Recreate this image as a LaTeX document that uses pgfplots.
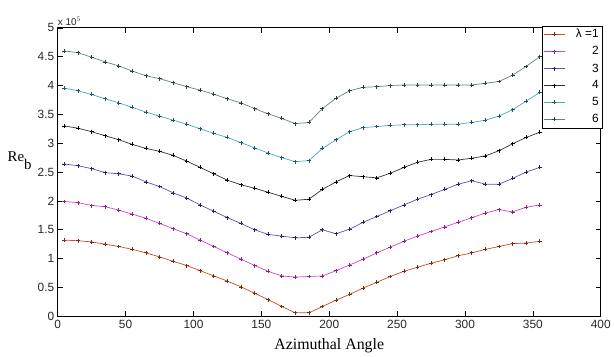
\documentclass[border=0pt]{standalone}
\usepackage{fontspec}
\setmainfont{Liberation Serif}
\setsansfont{Liberation Sans}
\usepackage{pgfplots}
\pgfplotsset{compat=1.18}
\definecolor{l1}{HTML}{C0502A}\definecolor{m1}{HTML}{7A2A10}
\definecolor{l2}{HTML}{CC44CC}\definecolor{m2}{HTML}{882088}
\definecolor{l3}{HTML}{6A4CA8}\definecolor{m3}{HTML}{2E1F5E}
\definecolor{l4}{HTML}{30303C}\definecolor{m4}{HTML}{000000}
\definecolor{l5}{HTML}{4FA6BC}\definecolor{m5}{HTML}{1F5566}
\definecolor{l6}{HTML}{66827A}\definecolor{m6}{HTML}{2A403A}
\begin{document}
\begin{tikzpicture}
\begin{axis}[
  scale only axis, width=546bp, height=290bp,
  xmin=0, xmax=400, ymin=0, ymax=5,
  xtick={0,50,...,400}, ytick={0,0.5,...,5},
  yticklabels={0,0.5,1,1.5,2,2.5,3,3.5,4,4.5,5},
  tick align=inside, tick pos=both, major tick length=5bp,
  axis line style={line width=0.8pt},
  tick style={line width=0.6pt, black},
  tick label style={font=\sffamily\fontsize{12}{14}\selectfont, text=black!85},
  /pgf/number format/assume math mode=true,
  xlabel={Azimuthal Angle},
  xlabel style={font=\fontsize{16}{18}\selectfont, yshift=-3bp},
  clip=false,
  every axis plot/.append style={line width=0.7pt},
  legend image code/.code={\draw[mark repeat=2,mark phase=2] plot coordinates {(0bp,0bp)(10.5bp,0bp)(21bp,0bp)};},
  legend style={at={(1.003,1.008)}, anchor=north east, draw=black, line width=0.6pt, fill=white,
    font=\sffamily\fontsize{12}{13}\selectfont, inner sep=1.5bp, row sep=3.3bp,
    /tikz/every odd column/.append style={column sep=9bp}},
  legend cell align=right,
]
\addplot[l1, mark=+, mark size=2bp, mark options={m1, solid}] coordinates {
(5,1.32)(15,1.31)(25,1.29)(35,1.25)(45,1.21)(55,1.16)(65,1.10)(75,1.03)(85,0.955)(95,0.88)
(105,0.79)(115,0.70)(125,0.61)(135,0.51)(145,0.40)(155,0.29)(165,0.17)(175,0.06)(185,0.06)(195,0.17)
(205,0.28)(215,0.38)(225,0.49)(235,0.59)(245,0.69)(255,0.78)(265,0.85)(275,0.92)(285,0.98)(295,1.05)
(305,1.10)(315,1.16)(325,1.21)(335,1.26)(345,1.27)(355,1.30)};
\addlegendentry{λ =1}
\addplot[l2, mark=+, mark size=2bp, mark options={m2, solid}] coordinates {
(5,1.99)(15,1.97)(25,1.92)(35,1.90)(45,1.84)(55,1.77)(65,1.70)(75,1.61)(85,1.52)(95,1.43)
(105,1.32)(115,1.21)(125,1.10)(135,0.99)(145,0.88)(155,0.78)(165,0.70)(175,0.68)(185,0.69)(195,0.70)
(205,0.79)(215,0.89)(225,0.99)(235,1.10)(245,1.20)(255,1.30)(265,1.39)(275,1.47)(285,1.55)(295,1.63)
(305,1.71)(315,1.79)(325,1.85)(335,1.81)(345,1.89)(355,1.93)};
\addlegendentry{2}
\addplot[l3, mark=+, mark size=2bp, mark options={m3, solid}] coordinates {
(5,2.64)(15,2.61)(25,2.56)(35,2.49)(45,2.47)(55,2.43)(65,2.33)(75,2.25)(85,2.14)(95,2.05)
(105,1.93)(115,1.82)(125,1.71)(135,1.61)(145,1.50)(155,1.42)(165,1.39)(175,1.36)(185,1.37)(195,1.50)
(205,1.43)(215,1.51)(225,1.63)(235,1.73)(245,1.83)(255,1.93)(265,2.03)(275,2.11)(285,2.20)(295,2.29)
(305,2.35)(315,2.29)(325,2.29)(335,2.39)(345,2.50)(355,2.58)};
\addlegendentry{3}
\addplot[l4, mark=+, mark size=2bp, mark options={m4, solid}] coordinates {
(5,3.30)(15,3.26)(25,3.20)(35,3.13)(45,3.06)(55,2.98)(65,2.91)(75,2.86)(85,2.79)(95,2.69)
(105,2.58)(115,2.47)(125,2.36)(135,2.28)(145,2.22)(155,2.15)(165,2.08)(175,2.01)(185,2.03)(195,2.20)
(205,2.33)(215,2.44)(225,2.42)(235,2.40)(245,2.48)(255,2.58)(265,2.67)(275,2.72)(285,2.72)(295,2.71)
(305,2.74)(315,2.78)(325,2.87)(335,2.99)(345,3.10)(355,3.19)};
\addlegendentry{4}
\addplot[l5, mark=+, mark size=2bp, mark options={m5, solid}] coordinates {
(5,3.955)(15,3.91)(25,3.845)(35,3.77)(45,3.70)(55,3.62)(65,3.54)(75,3.47)(85,3.40)(95,3.33)
(105,3.25)(115,3.17)(125,3.10)(135,3.01)(145,2.92)(155,2.83)(165,2.75)(175,2.68)(185,2.70)(195,2.91)
(205,3.06)(215,3.20)(225,3.27)(235,3.29)(245,3.31)(255,3.32)(265,3.32)(275,3.33)(285,3.33)(295,3.33)
(305,3.36)(315,3.40)(325,3.47)(335,3.58)(345,3.73)(355,3.88)};
\addlegendentry{5}
\addplot[l6, mark=+, mark size=2bp, mark options={m6, solid}] coordinates {
(5,4.60)(15,4.57)(25,4.49)(35,4.41)(45,4.34)(55,4.25)(65,4.17)(75,4.12)(85,4.05)(95,3.98)
(105,3.92)(115,3.85)(125,3.77)(135,3.70)(145,3.60)(155,3.51)(165,3.43)(175,3.34)(185,3.36)(195,3.60)
(205,3.78)(215,3.91)(225,3.97)(235,3.98)(245,4.00)(255,4.01)(265,4.01)(275,4.01)(285,4.01)(295,4.01)
(305,4.01)(315,4.04)(325,4.07)(335,4.18)(345,4.33)(355,4.50)};
\addlegendentry{6}
\node[anchor=south west, font=\sffamily\fontsize{10}{11}\selectfont, inner sep=0pt, yshift=2bp, text=black!85] at (rel axis cs:0,1) {x 10$^{5}$};
\node[font=\fontsize{15}{17}\selectfont, inner sep=0pt] at (rel axis cs:-0.07,0.54) {Re\raisebox{-8bp}{b}};
\coordinate (ll) at (rel axis cs:0,0);
\coordinate (ur) at (rel axis cs:1,1);
\end{axis}
\path ([shift={(-58bp,-40bp)}]ll) rectangle ([shift={(10bp,28bp)}]ur);
\end{tikzpicture}
\end{document}
